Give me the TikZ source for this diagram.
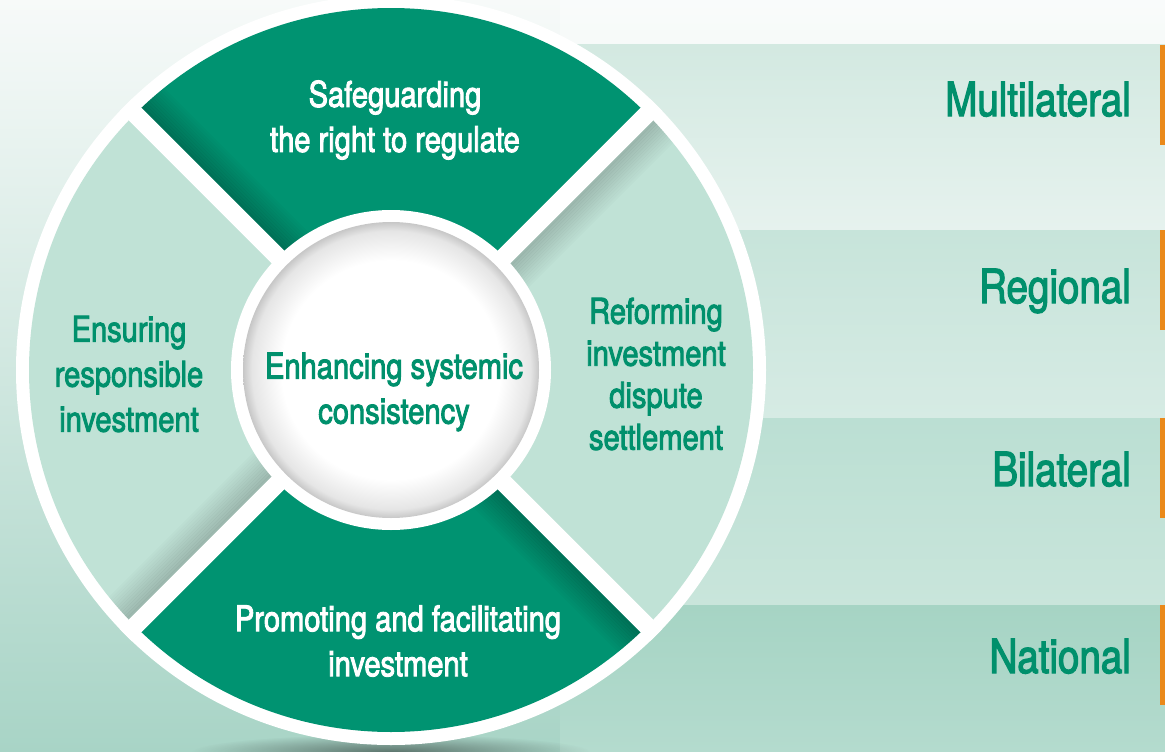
\documentclass[tikz,border=0pt]{standalone}
\usepackage{fontspec}
\setmainfont{TeX Gyre Heros}[FakeStretch=0.82,FakeBold=2.5]
\usetikzlibrary{calc,fadings}
\tikzfading[name=softspot, inner color=transparent!0, outer color=transparent!100]
\definecolor{dkgreen}{RGB}{0,147,113}
\definecolor{ltseg}{RGB}{192,226,214}
\definecolor{txtgreen}{RGB}{0,144,108}
\definecolor{orangebar}{RGB}{234,137,26}
\definecolor{bgtop}{RGB}{247,250,249}
\definecolor{bgbot}{RGB}{168,212,198}
\definecolor{bandAtop}{RGB}{211,233,225}
\definecolor{bandAbot}{RGB}{230,242,238}
\definecolor{bandBtop}{RGB}{199,228,218}
\definecolor{bandBbot}{RGB}{214,235,228}
\definecolor{bandCtop}{RGB}{187,223,211}
\definecolor{bandCbot}{RGB}{201,229,219}
\definecolor{bandDtop}{RGB}{166,212,196}
\definecolor{bandDbot}{RGB}{180,219,206}
\pgfdeclareradialshading{innerdisc}{\pgfpoint{0bp}{0bp}}{color(0bp)=(white); color(18.5bp)=(white); color(23.5bp)=(black!10); color(25bp)=(black!22); color(50bp)=(black!22)}
\begin{document}
\begin{tikzpicture}[x=1pt,y=-1pt,
  seglabel/.style={align=center, font=\fontsize{35.5}{45}\selectfont, inner sep=0pt},
  lvllabel/.style={anchor=base east, font=\fontsize{47}{54}\selectfont, text=txtgreen, inner sep=0pt},
  bar/.style={fill=orangebar}]
\useasboundingbox (0,0) rectangle (1165,752);
% background
\shade[top color=bgtop, bottom color=bgbot] (0,0) rectangle (1165,752);
\fill[white, opacity=0.35] (560,0) rectangle (1165,45);
\shade[top color=bandAtop, bottom color=bandAbot] (560,45) rectangle (1165,230);
\shade[top color=bandBtop, bottom color=bandBbot] (560,230) rectangle (1165,418);
\shade[top color=bandCtop, bottom color=bandCbot] (560,418) rectangle (1165,605);
\shade[top color=bandDtop, bottom color=bandDbot] (560,605) rectangle (1165,752);
% orange bars
\fill[bar] (1160,45) rectangle (1165,145);
\fill[bar] (1160,230) rectangle (1165,330);
\fill[bar] (1160,418) rectangle (1165,518);
\fill[bar] (1160,605) rectangle (1165,705);
% level labels
\node[lvllabel] (multi) at (1131,116) {Multilateral};
\node[lvllabel] (regio) at (1131,303) {Regional};
\node[lvllabel] (bilat) at (1131,486) {Bilateral};
\node[lvllabel] (natio) at (1131,673) {National};
% wheel
\coordinate (C) at (391,370);
\fill[black, opacity=0.45, path fading=softspot] (391,752) ellipse (200 and 18);
\fill[white] (C) circle (375);
\fill[dkgreen] (C) -- ($(C)+(225:362)$) arc[start angle=225, end angle=315, radius=362] -- cycle;
\fill[ltseg] (C) -- ($(C)+(315:362)$) arc[start angle=315, end angle=405, radius=362] -- cycle;
\fill[dkgreen] (C) -- ($(C)+(45:362)$) arc[start angle=45, end angle=135, radius=362] -- cycle;
\fill[ltseg] (C) -- ($(C)+(135:362)$) arc[start angle=135, end angle=225, radius=362] -- cycle;
% soft shadows along gaps
\foreach \g/\op in {225/0.22, 315/0.18, 45/0.22, 135/0.18} {
  \begin{scope}
    \clip (C) -- ($(C)+(\g:362)$) arc[start angle=\g, end angle=\g+90, radius=362] -- cycle;
    \foreach \k [evaluate=\k as \o using {\op*(1-\k/12)}, evaluate=\k as \d using {10.25+2.5*\k}] in {0,...,11} {
      \draw[black, line width=2.5pt, draw opacity=\o] ($(C)+(\g:140)+(\g+90:\d)$) -- ($(C)+(\g:380)+(\g+90:\d)$);
    }
  \end{scope}
}
% white gaps
\draw[white, line width=18pt] ($(C)+(45:375)$) -- ($(C)+(225:375)$);
\draw[white, line width=18pt] ($(C)+(135:375)$) -- ($(C)+(315:375)$);
% centre
\fill[white] (C) circle (160);
\shade[shading=innerdisc] (C) circle (148);
% texts
\node[seglabel, text=white] (safe) at (395,120) {Safeguarding\\the right to regulate};
\node[seglabel, text=txtgreen] (ensure) at (129,374) {Ensuring\\responsible\\investment};
\node[seglabel, text=txtgreen, font=\fontsize{35.5}{42}\selectfont] (reform) at (656,374) {Reforming\\investment\\dispute\\settlement};
\node[seglabel, text=txtgreen] (enh) at (394,392) {Enhancing systemic\\consistency};
\node[seglabel, text=white] (promo) at (398,641) {Promoting and facilitating\\investment};
\end{tikzpicture}
\end{document}
